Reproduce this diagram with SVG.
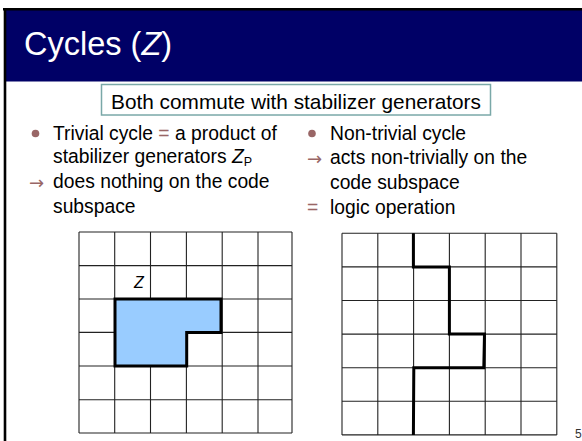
<svg xmlns="http://www.w3.org/2000/svg" width="582" height="441" viewBox="0 0 582 441">
<style>
text{font-family:"Liberation Sans",Arial,sans-serif;fill:#000}
.t{font-size:19.3px}
.acc{fill:#996666}
.arr{font-family:"DejaVu Sans",sans-serif;font-size:18px;fill:#996666}
.grid line{stroke:#222;stroke-width:1.1}
.thick{fill:none;stroke:#000;stroke-width:3;stroke-linejoin:miter}
</style>
<rect width="582" height="441" fill="#fff"/>
<g id="title">
<rect x="5" y="9.5" width="577" height="72" fill="#000066"/>
<line x1="3" y1="9.2" x2="582" y2="9.2" stroke="#000" stroke-width="2.5"/>
<text x="24" y="55" style="font-size:32.5px;fill:#fff">Cycles (<tspan font-style="italic" style="fill:#fff">Z</tspan>)</text>
</g>
<line id="left-border" x1="5" y1="8" x2="5" y2="441" stroke="#000" stroke-width="2.6"/>
<g id="note">
<rect x="101.5" y="84.5" width="389" height="30.5" fill="#fff" stroke="#7aa8a8" stroke-width="1.5"/>
<text x="296" y="108.5" text-anchor="middle" style="font-size:20.8px">Both commute with stabilizer generators</text>
</g>
<g id="left-column">
<circle cx="35.5" cy="133.5" r="3.8" class="acc"/>
<text class="t" x="53" y="139.5">Trivial cycle <tspan class="acc">=</tspan> a product of</text>
<text class="t" x="53" y="162.5">stabilizer generators <tspan font-style="italic">Z</tspan><tspan dy="3.5" style="font-size:12.5px">P</tspan></text>
<text x="29" y="189" class="arr">→</text>
<text class="t" x="53" y="188">does nothing on the code</text>
<text class="t" x="53" y="212.5">subspace</text>
</g>
<g id="right-column">
<circle cx="312" cy="133.5" r="3.8" class="acc"/>
<text class="t" x="330" y="139.5">Non-trivial cycle</text>
<text x="307" y="165" class="arr">→</text>
<text class="t" x="330" y="164">acts non-trivially on the</text>
<text class="t" x="330" y="188.5">code subspace</text>
<text x="307" y="214" class="acc" style="font-size:19.3px">=</text>
<text class="t" x="330" y="214">logic operation</text>
</g>
<g id="grid-left">
<g class="grid">
<line x1="79" y1="232" x2="79" y2="433"/>
<line x1="114.7" y1="232" x2="114.7" y2="433"/>
<line x1="150.5" y1="232" x2="150.5" y2="433"/>
<line x1="186.4" y1="232" x2="186.4" y2="433"/>
<line x1="222.2" y1="232" x2="222.2" y2="433"/>
<line x1="258" y1="232" x2="258" y2="433"/>
<line x1="292" y1="232" x2="292" y2="433"/>
<line x1="79" y1="232" x2="292" y2="232"/>
<line x1="79" y1="265.6" x2="292" y2="265.6"/>
<line x1="79" y1="299" x2="292" y2="299"/>
<line x1="79" y1="332.4" x2="292" y2="332.4"/>
<line x1="79" y1="366" x2="292" y2="366"/>
<line x1="79" y1="399.7" x2="292" y2="399.7"/>
<line x1="79" y1="433" x2="292" y2="433"/>
</g>
<polygon points="115,299 221,299 221,332.5 186.7,332.5 186.7,366 115,366" fill="#99ccff" stroke="#000" stroke-width="3" stroke-linejoin="miter"/>
<text x="134" y="288" font-style="italic" style="font-size:16px">Z</text>
</g>
<g id="grid-right">
<g class="grid">
<line x1="342" y1="233.3" x2="342" y2="435"/>
<line x1="377.8" y1="233.3" x2="377.8" y2="435"/>
<line x1="413.6" y1="233.3" x2="413.6" y2="435"/>
<line x1="449.4" y1="233.3" x2="449.4" y2="435"/>
<line x1="485.2" y1="233.3" x2="485.2" y2="435"/>
<line x1="521" y1="233.3" x2="521" y2="435"/>
<line x1="556.8" y1="233.3" x2="556.8" y2="435"/>
<line x1="342" y1="233.3" x2="556.8" y2="233.3"/>
<line x1="342" y1="266.9" x2="556.8" y2="266.9"/>
<line x1="342" y1="300.5" x2="556.8" y2="300.5"/>
<line x1="342" y1="334.1" x2="556.8" y2="334.1"/>
<line x1="342" y1="367.7" x2="556.8" y2="367.7"/>
<line x1="342" y1="401.3" x2="556.8" y2="401.3"/>
<line x1="342" y1="434.9" x2="556.8" y2="434.9"/>
</g>
<polyline class="thick" points="413.4,233.3 413.4,266.9 449.4,266.9 449.4,334.1 484.5,334.1 483.8,367.7 413.8,367.7 413.4,434.9"/>
</g>
<text id="page-number" x="575" y="438" style="font-size:12px;fill:#333">5</text>
</svg>
